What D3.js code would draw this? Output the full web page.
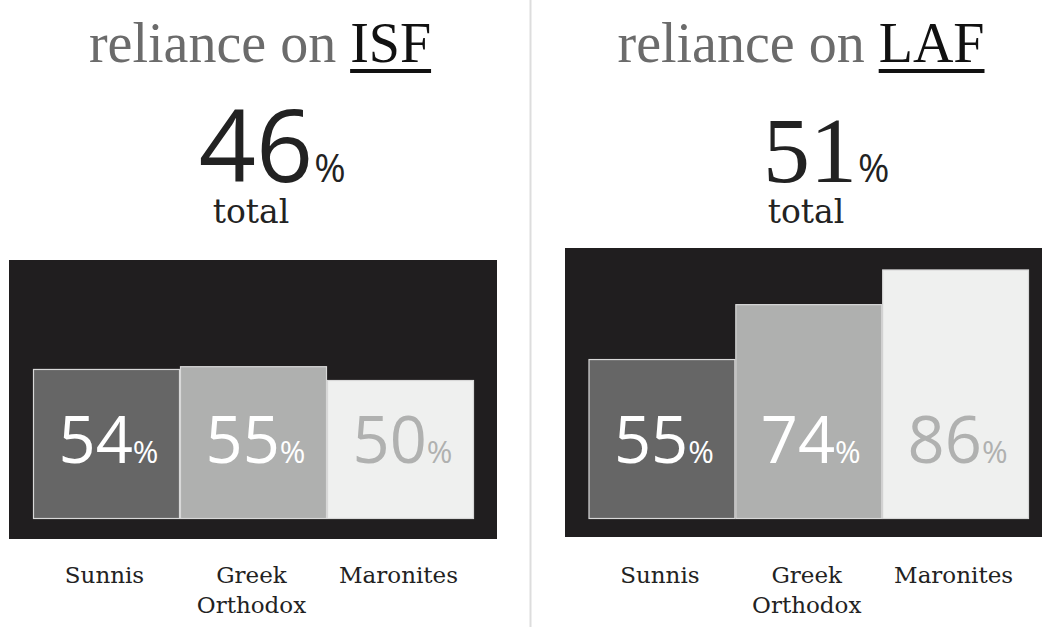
<!DOCTYPE html>
<html>
<head>
<meta charset="utf-8">
<script src="https://cdn.jsdelivr.net/npm/d3@7"></script>
<style>
  body { margin: 0; background: #fff; }
  svg { display: block; }
  .sans { font-family: "Open Sans", "Noto Sans", Lato, sans-serif; }
</style>
</head>
<body>
<script>
// data
var groups = ["Sunnis", "Greek Orthodox", "Maronites"];
var forces = ["ISF", "LAF"];
var totals = [46, 51];
var isfValues = [54, 55, 50];
var lafValues = [55, 74, 86];

var w = 1042, h = 627;
var barFills = ["#666666", "#afb0af", "#eff0ef"];
var labelFills = ["#ffffff", "#ffffff", "#b0b1b0"];

var svg = d3.select("body").append("svg")
    .attr("width", w)
    .attr("height", h);

// divider
svg.append("rect")
    .attr("x", 529.5).attr("y", 0)
    .attr("width", 2).attr("height", h)
    .attr("fill", "#dddddd");

var panels = [
  { force: forces[0], total: totals[0], values: isfValues,
    bg: [9, 260, 488, 279], bars: [33, 474], yMax: 276,
    cx: 260, numX: 256, numSans: true, numSize: 100, totalX: 251 },
  { force: forces[1], total: totals[1], values: lafValues,
    bg: [565, 248, 477, 289], bars: [588.5, 1029], yMax: 289,
    cx: 801, numX: 810, numSans: false, numSize: 94, totalX: 806 }
];

var baseY = 518.5;

panels.forEach(function(p) {
  var g = svg.append("g");

  // title
  var title = g.append("text")
      .attr("x", p.cx).attr("y", 62)
      .attr("text-anchor", "middle")
      .attr("font-family", "'Liberation Serif', serif")
      .attr("font-size", 56);
  title.append("tspan").attr("fill", "#6b6b6b").text("reliance on ");
  var ft = title.append("tspan").attr("fill", "#111111").text(p.force);

  var full = title.node().getComputedTextLength();
  var fl = ft.node().getComputedTextLength();
  g.append("rect")
      .attr("x", p.cx + full / 2 - fl)
      .attr("y", 69)
      .attr("width", fl)
      .attr("height", 4)
      .attr("fill", "#111111");

  // big number
  var num = g.append("text")
      .attr("x", p.numX).attr("y", 182)
      .attr("text-anchor", "middle")
      .attr("fill", "#222222")
      .attr("font-size", p.numSize)
      .text(p.total);
  if (p.numSans) num.attr("class", "sans");
  else num.attr("font-family", "'Liberation Serif', serif");
  var nl = num.node().getComputedTextLength();
  g.append("text")
      .attr("class", "sans")
      .attr("x", p.numX + nl / 2 + 1).attr("y", 182)
      .attr("fill", "#222222")
      .attr("font-size", 38)
      .text("%");

  g.append("text")
      .attr("x", p.totalX).attr("y", 223)
      .attr("text-anchor", "middle")
      .attr("fill", "#222222")
      .attr("font-family", "'DejaVu Serif', serif")
      .attr("font-size", 33)
      .text("total");

  // dark background
  g.append("rect")
      .attr("x", p.bg[0]).attr("y", p.bg[1])
      .attr("width", p.bg[2]).attr("height", p.bg[3])
      .attr("fill", "#201e1f");

  var x = d3.scaleBand()
      .domain(groups)
      .range(p.bars)
      .padding(0);

  var y = d3.scaleLinear()
      .domain([0, 100])
      .range([baseY, baseY - p.yMax]);

  g.selectAll(".bar")
      .data(p.values)
      .enter()
      .append("rect")
      .attr("class", "bar")
      .attr("x", (d, i) => x(groups[i]) + 0.5)
      .attr("y", d => y(d))
      .attr("width", x.bandwidth() - 1)
      .attr("height", d => baseY - y(d))
      .attr("fill", (d, i) => barFills[i])
      .attr("stroke", "#d8d8d8")
      .attr("stroke-width", 1.2);

  var lbl = g.selectAll(".val")
      .data(p.values)
      .enter()
      .append("text")
      .attr("class", "val sans")
      .attr("x", (d, i) => x(groups[i]) + x.bandwidth() / 2 + 2)
      .attr("y", 463)
      .attr("text-anchor", "middle")
      .attr("fill", (d, i) => labelFills[i]);
  lbl.append("tspan").attr("font-size", 65).text(d => d);
  lbl.append("tspan").attr("font-size", 31).text("%");

  // category labels
  var cat = g.selectAll(".cat")
      .data(groups)
      .enter()
      .append("text")
      .attr("class", "cat")
      .attr("text-anchor", "middle")
      .attr("fill", "#222222")
      .attr("font-family", "'DejaVu Serif', serif")
      .attr("font-size", 23);
  cat.each(function(d) {
    var t = d3.select(this);
    var cx = x(d) + x.bandwidth() / 2 - 2;
    d.split(" ").forEach(function(word, k) {
      t.append("tspan")
          .attr("x", cx)
          .attr("y", 583 + k * 30)
          .text(word);
    });
  });
});
</script>
</body>
</html>
